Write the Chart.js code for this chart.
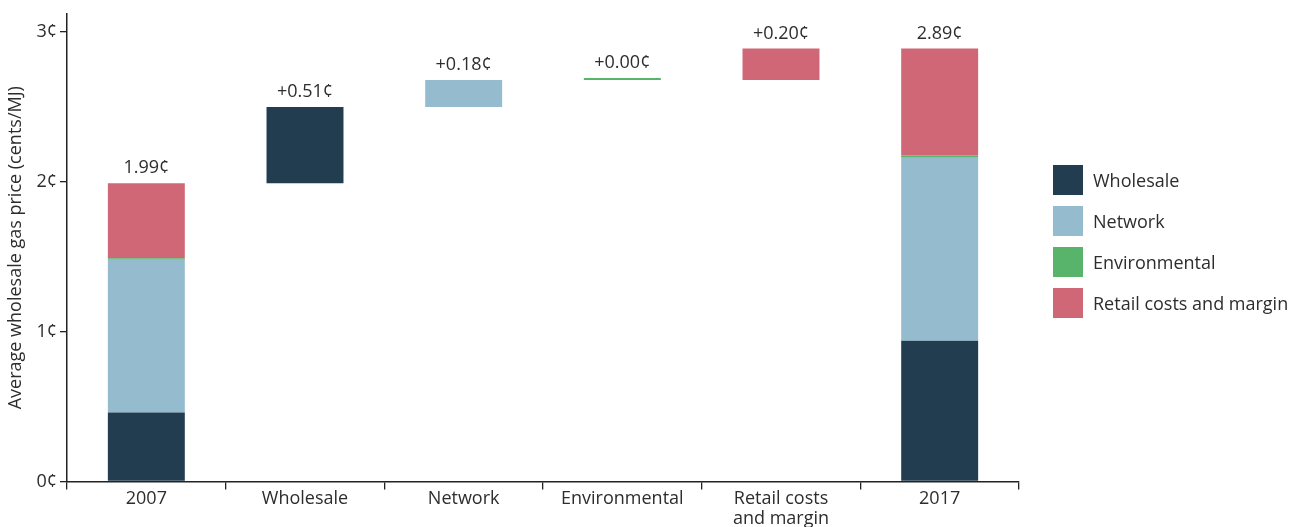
<!DOCTYPE html>
<html>
<head>
<meta charset="utf-8">
<script src="https://cdn.jsdelivr.net/npm/chart.js@4/dist/chart.umd.min.js"></script>
<style>
  html, body { margin: 0; padding: 0; background: #fff; }
  #wrap { position: relative; width: 1305px; height: 527px; }
  #legend { position: absolute; left: 1053px; top: 165px; font-family: "Open Sans", sans-serif; font-size: 18px; color: #2d2d2d; }
  .item { display: flex; align-items: center; height: 30px; margin-bottom: 11px; }
  .box { width: 30px; height: 30px; margin-right: 10px; }
</style>
</head>
<body>
<div id="wrap">
  <canvas id="c" width="1305" height="527"></canvas>
  <div id="legend"></div>
</div>
<script>
const categories = ['2007', 'Wholesale', 'Network', 'Environmental', ['Retail costs', 'and margin'], '2017'];
const seriesNames = ['Wholesale', 'Network', 'Environmental', 'Retail costs and margin'];
const seriesColors = ['#213d4f', '#94bbce', '#57b46a', '#d06776'];
// floating bars: [low, high] per category (null where absent)
const wholesale = [[0, 0.46], [1.99, 2.50], null, null, null, [0, 0.94]];
const network = [[0.46, 1.48], null, [2.50, 2.68], null, null, [0.94, 2.16]];
const environmental = [[1.48, 1.49], null, null, [2.68, 2.693], null, [2.16, 2.175]];
const retail = [[1.49, 1.99], null, null, null, [2.68, 2.89], [2.175, 2.89]];
const labelTops = [1.99, 2.50, 2.68, 2.693, 2.89, 2.89];
const labelTexts = ['1.99¢', '+0.51¢', '+0.18¢', '+0.00¢', '+0.20¢', '2.89¢'];
const yTicks = [0, 1, 2, 3];

const FONT = '"Open Sans", sans-serif';
const TEXT = '#2d2d2d';
const seriesData = [wholesale, network, environmental, retail];

const legendEl = document.getElementById('legend');
seriesNames.forEach((n, i) => {
  const d = document.createElement('div'); d.className = 'item';
  d.innerHTML = '<div class="box" style="background:' + seriesColors[i] + '"></div><span>' + n + '</span>';
  legendEl.appendChild(d);
});

const labelPlugin = {
  id: 'topLabels',
  afterDatasetsDraw(chart) {
    const ctx = chart.ctx, x = chart.scales.x, y = chart.scales.y;
    ctx.save();
    ctx.font = '18px ' + FONT;
    ctx.fillStyle = TEXT;
    ctx.textAlign = 'center';
    ctx.textBaseline = 'middle';
    labelTexts.forEach((t, i) => {
      ctx.fillText(t, x.getPixelForValue(i), y.getPixelForValue(labelTops[i]) - 15);
    });
    ctx.restore();
  }
};

new Chart(document.getElementById('c'), {
  type: 'bar',
  data: {
    labels: categories,
    datasets: seriesNames.map((n, i) => ({
      label: n,
      data: seriesData[i],
      backgroundColor: seriesColors[i],
      borderWidth: 0,
      categoryPercentage: 1,
      barPercentage: 0.485
    }))
  },
  options: {
    responsive: false,
    animation: false,
    layout: { padding: { left: 5, right: 286, top: 14, bottom: 0 } },
    plugins: { legend: { display: false }, tooltip: { enabled: false } },
    scales: {
      x: {
        stacked: true,
        grid: { display: true, drawOnChartArea: false, drawTicks: true, tickLength: 8, color: '#222', offset: true, lineWidth: 1.3 },
        border: { display: true, color: '#222', width: 1.5 },
        ticks: { color: TEXT, font: { family: FONT, size: 18, lineHeight: 1.11 }, padding: -1, maxRotation: 0, autoSkip: false },
        afterFit(s) { s.height = 45.5; }
      },
      y: {
        stacked: false,
        min: 0,
        max: 3.12,
        afterBuildTicks(s) { s.ticks = yTicks.map(v => ({ value: v })); },
        grid: { display: true, drawOnChartArea: false, drawTicks: true, tickLength: 7, color: '#222', lineWidth: 1.3 },
        border: { display: true, color: '#222', width: 1.5 },
        ticks: { color: TEXT, font: { family: FONT, size: 18 }, padding: 3, callback: v => v + '¢' },
        title: { display: true, text: 'Average wholesale gas price (cents/MJ)', color: TEXT, font: { family: FONT, size: 18 }, padding: { top: 0, bottom: 4 } },
        afterFit(s) { s.width = 62; }
      }
    }
  },
  plugins: [labelPlugin]
});
</script>
</body>
</html>
